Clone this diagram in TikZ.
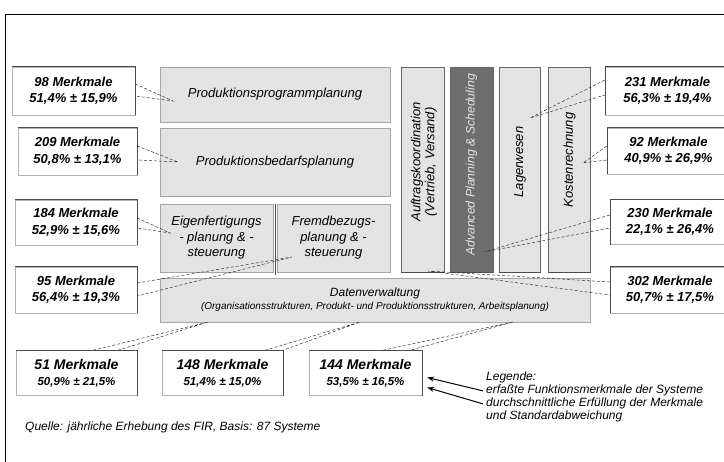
\documentclass[tikz,border=0pt]{standalone}
\usepackage{fontspec}
\setmainfont{Liberation Sans}
\usetikzlibrary{arrows.meta,positioning}

\definecolor{kasten}{HTML}{E3E3E3}
\definecolor{apsgrau}{HTML}{6E6E6E}
\definecolor{apsschrift}{HTML}{E4E4E4}

\tikzset{
	funktion/.style={fill=kasten, draw=black!35, inner sep=0pt, align=center,
		font=\itshape\fontsize{13}{15.5}\selectfont},
	saeule/.style={fill=kasten, draw=black!60, inner sep=0pt},
	hochtext/.style={rotate=90, align=center, inner sep=0pt,
		font=\itshape\fontsize{13}{14}\selectfont},
	merkmal/.style={fill=white, draw=black!30, inner sep=0pt, align=center,
		font=\bfseries\itshape\fontsize{13}{16.5}\selectfont},
	kante/.style={black!70, line width=0.6pt},
	leitung/.style={black!80, line width=0.5pt, dash pattern=on 3pt off 2pt},
	notiz/.style={inner sep=0pt, anchor=base west,
		font=\itshape\fontsize{12}{13}\selectfont},
	pfeil/.style={-{Stealth[length=7pt,width=5pt]}, line width=1pt}
}

\begin{document}
\begin{tikzpicture}[x=1pt, y=-1pt]
\useasboundingbox (0,0) rectangle (724,462);
\draw[line width=0.8pt] (5,14) rectangle (760,500);

% Funktionsbereiche
\node[funktion, minimum width=230, minimum height=55] (ppp) at (275,94.5) {Produktionsprogrammplanung};
\node[funktion, minimum width=230, minimum height=68] (pbp) at (275,162) {Produktionsbedarfsplanung};
\node[funktion, minimum width=113, minimum height=68] (eig) at (216.5,238) {Eigenfertigungs\\- planung \& -\\steuerung};
\node[funktion, minimum width=113, minimum height=68] (fre) at (333.5,238) {Fremdbezugs-\\planung \& -\\steuerung};
\draw[kante] ([xshift=2pt]eig.north east) -- ([xshift=2pt,yshift=-3pt]eig.south east);
\node[funktion, minimum width=430, minimum height=44, font=\itshape\fontsize{12}{15}\selectfont] (dat) at (375,300)
	{Datenverwaltung\\[-2pt]{\fontsize{10}{11}\selectfont (Organisationsstrukturen, Produkt- und Produktionsstrukturen, Arbeitsplanung)}};

% Saeulen
\node[saeule, minimum width=43, minimum height=205] (auf) at (423,169.5) {};
\node[saeule, fill=apsgrau, minimum width=43, minimum height=205] (aps) at (471.5,169.5) {};
\node[saeule, minimum width=41, minimum height=205] (lag) at (520,169.5) {};
\node[saeule, minimum width=42, minimum height=205] (kos) at (569.5,169.5) {};
\foreach \s in {auf,aps,lag,kos}
	\draw[kante, line width=1pt] (\s.south west) -- (\s.south east);
\node[hochtext] (auf-t) at (424,162) {Auftragskoordination\\(Vertrieb, Versand)};
\node[hochtext, text=apsschrift, font=\itshape\fontsize{12.3}{14}\selectfont] (aps-t) at (471.5,165) {Advanced Planning \& Scheduling};
\node[hochtext] (lag-t) at (520,162) {Lagerwesen};
\node[hochtext] (kos-t) at (569.5,160) {Kostenrechnung};

% Merkmale links
\node[merkmal, minimum width=123, minimum height=48] (m98) at (73.5,91) {98 Merkmale\\51,4\% ± 15,9\%};
\node[merkmal, minimum width=119, minimum height=47] (m209) at (77.5,151.5) {209 Merkmale\\50,8\% ± 13,1\%};
\node[merkmal, minimum width=122, minimum height=45] (m184) at (76,222.5) {184 Merkmale\\52,9\% ± 15,6\%};
\node[merkmal, minimum width=122, minimum height=46] (m95) at (76,290) {95 Merkmale\\56,4\% ± 19,3\%};

% Merkmale rechts
\node[merkmal, minimum width=125, minimum height=48] (m231) at (667.5,91) {231 Merkmale\\56,3\% ± 19,4\%};
\node[merkmal, minimum width=123, minimum height=46] (m92) at (668.5,151) {92 Merkmale\\40,9\% ± 26,9\%};
\node[merkmal, minimum width=120, minimum height=45] (m230) at (670,222) {230 Merkmale\\22,1\% ± 26,4\%};
\node[merkmal, minimum width=120, minimum height=46] (m302) at (670,290) {302 Merkmale\\50,7\% ± 17,5\%};

% Merkmale unten
\node[merkmal, minimum width=121, minimum height=45, font=\bfseries\itshape\fontsize{14}{16}\selectfont] (m51) at (76.5,373)
	{51 Merkmale\\{\fontsize{11.5}{12}\selectfont 50,9\% ± 21,5\%}};
\node[merkmal, minimum width=121, minimum height=45, font=\bfseries\itshape\fontsize{14}{16}\selectfont] (m148) at (222.5,373)
	{148 Merkmale\\{\fontsize{11.5}{12}\selectfont 51,4\% ± 15,0\%}};
\node[merkmal, minimum width=113, minimum height=45, font=\bfseries\itshape\fontsize{14}{16}\selectfont] (m144) at (365.5,373)
	{144 Merkmale\\{\fontsize{11.5}{12}\selectfont 53,5\% ± 16,5\%}};

\foreach \m in {m98,m209,m184,m95,m51,m148,m144}
	\draw[kante] (\m.north west) -- (\m.north east) -- (\m.south east);
\foreach \m in {m231,m92,m230,m302}
	\draw[kante] (\m.north east) -- (\m.north west) -- (\m.south west);

% Zielpunkte
\coordinate (z98) at (173,101);
\coordinate (z209) at (178,162);
\coordinate (z184) at (170,233);
\coordinate (z95) at (292,257);
\coordinate (z231) at (530,118);
\coordinate (z92) at (583,163);
\coordinate (z230) at (484,252);
\coordinate (z302) at (428,271);
\coordinate (z51) at (208,322);
\coordinate (z148) at (360,322);
\coordinate (z144) at (513,322);

\draw[leitung] ([yshift=7pt]m98.east) -- (z98) -- ([yshift=-5pt]m98.east);
\draw[leitung] ([yshift=5.5pt]m209.east) -- (z209) -- ([yshift=-8.5pt]m209.east);
\draw[leitung] ([yshift=4.5pt]m184.east) -- (z184) -- ([yshift=-5.5pt]m184.east);
\draw[leitung] ([yshift=7pt]m95.east) -- (z95) -- ([yshift=-6pt]m95.east);
\draw[leitung] ([yshift=11pt]m231.west) -- (z231) -- ([yshift=-4pt]m231.west);
\draw[leitung] ([yshift=5pt]m92.west) -- (z92) -- ([yshift=-9pt]m92.west);
\draw[leitung] ([yshift=7pt]m230.west) -- (z230) -- ([yshift=-6pt]m230.west);
\draw[leitung] ([yshift=8pt]m302.west) -- (z302) -- ([yshift=-5pt]m302.west);
\draw[leitung] ([xshift=16.5pt]m51.north) -- (z51) -- ([xshift=41.5pt]m51.north);
\draw[leitung] ([xshift=42.5pt]m148.north) -- (z148) -- (m148.north east);
\draw[leitung] ([xshift=17.5pt]m144.north) -- (z144) -- ([xshift=44.5pt]m144.north);

% Legende
\node[notiz] (leg0) at (486,381) {Legende:};
\node[notiz] (leg1) at (486,394) {erfaßte Funktionsmerkmale der Systeme};
\node[notiz] (leg2) at (486,407) {durchschnittliche Erfüllung der Merkmale};
\node[notiz] (leg3) at (486,420) {und Standardabweichung};
\coordinate (p1) at ([xshift=5pt,yshift=-4.5pt]m144.east);
\coordinate (p2) at ([xshift=5pt,yshift=-14.5pt]m144.east);
\draw[pfeil] ([xshift=-3pt]leg1.west) -- (p1);
\draw[pfeil] ([xshift=-3pt]leg2.west) -- (p2);

\node[notiz] (quelle) at (25,431) {Quelle: jährliche Erhebung des FIR, Basis: 87 Systeme};
\end{tikzpicture}
\end{document}
